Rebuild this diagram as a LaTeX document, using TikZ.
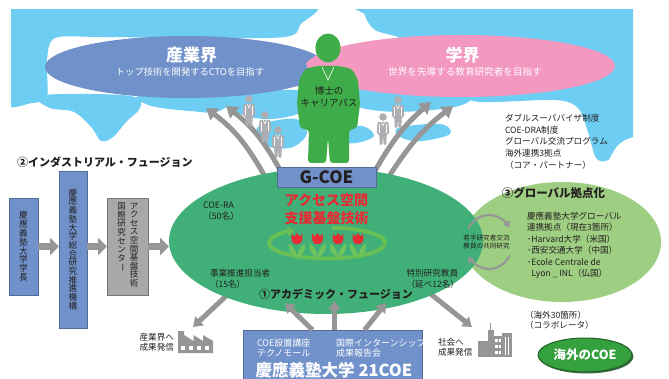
\documentclass[tikz,border=0pt]{standalone}
\usepackage{fontspec}
\setmainfont{Noto Sans CJK JP}
\usetikzlibrary{shapes.geometric,arrows.meta,shadows}

\pgfdeclarelayer{maplayer}
\pgfdeclarelayer{back}
\pgfsetlayers{maplayer,back,main}

\definecolor{mapblue}{RGB}{110,205,242}
\definecolor{indblue}{RGB}{112,145,202}
\definecolor{acapink}{RGB}{243,152,192}
\definecolor{coegreen}{RGB}{64,176,120}
\definecolor{globgreen}{RGB}{158,206,130}
\definecolor{mangreen}{RGB}{62,172,72}
\definecolor{arrowgray}{RGB}{150,150,150}
\definecolor{peoplegray}{RGB}{172,174,178}
\definecolor{titlered}{RGB}{232,42,52}
\definecolor{leafgreen}{RGB}{112,194,92}
\definecolor{loopgreen}{RGB}{104,192,84}
\definecolor{txt}{RGB}{35,31,32}
\definecolor{boxgray}{RGB}{168,168,168}
\definecolor{ovgreen}{RGB}{52,160,62}

\newcommand{\setfs}[2]{\fontsize{#1}{#2}\selectfont}
\newcommand{\vbar}{\rotatebox[origin=c]{-90}{ー}}

\tikzset{
  nopad/.style={inner sep=0pt, outer sep=0pt},
  bluebox/.style={nopad, fill=indblue, draw=indblue!75!black, line width=0.6pt,
    drop shadow={shadow xshift=1.2pt, shadow yshift=-1.2pt, opacity=0.45}},
  graybox/.style={bluebox, fill=boxgray, draw=boxgray!70!black},
  vtext/.style={nopad, text=txt, align=center},
  smalltext/.style={nopad, text=txt, align=left, font=\setfs{8.6}{11.5}},
  headtext/.style={nopad, text=txt, font=\setfs{11}{13}\bfseries},
  whitetext/.style={nopad, text=white, align=left, font=\setfs{9}{10.5}},
  blockarrow/.style={draw=arrowgray, line width=7pt, -{Triangle[length=9pt,width=17pt]}},
  bigarrow/.style={draw=arrowgray, line width=5pt, -{Triangle[length=11pt,width=14pt]}},
  midarrow/.style={draw=arrowgray, line width=5pt, -{Triangle[length=9pt,width=12pt]}},
  thinarrow/.style={draw=arrowgray, line width=2.2pt, -{Triangle[length=6pt,width=7.5pt]}},
  person/.pic={
    \fill[peoplegray] (0,0) circle [radius=3.8];
    \fill[peoplegray, rounded corners=1.2pt] (-5.5,5) -- (5.5,5) -- (6.2,17) -- (3.6,17)
      -- (3.4,28) -- (0.6,28) -- (0,18) -- (-0.6,28) -- (-3.4,28) -- (-3.6,17) -- (-6.2,17) -- cycle;
    \draw[white, line width=0.5pt] (-3.5,7) -- (-3.5,16) (3.5,7) -- (3.5,16);
    \draw[white, line width=0.5pt] (-1.6,5) -- (0,9) -- (1.6,5);
  },
}

\begin{document}
\begin{tikzpicture}[x=1pt,y=-1pt]
\useasboundingbox (0,0) rectangle (669,379);

% ---------- world map, career targets and the doctor figure ----------
\begin{pgfonlayer}{maplayer}
  \fill[white] (0,0) rectangle (669,379);
  \begin{scope}
    \clip (11,10) rectangle (633,172);
    \fill[mapblue] plot[smooth cycle, tension=0.5] coordinates {(0,0) (300,0) (300,25) (285,37) (200,38) (100,37) (55,38) (47,60) (47,96) (32,103) (0,100)};
    \fill[mapblue] plot[smooth cycle, tension=0.5] coordinates {(372,0) (700,0) (700,110) (625,140) (608,160) (596,158) (588,132) (578,108) (555,100) (480,102) (462,92) (440,60) (400,38) (375,30) (365,15)};
    \fill[mapblue] plot[smooth cycle, tension=0.6] coordinates {(38,96) (90,94) (135,97) (140,108) (126,122) (113,137) (101,141) (92,128) (74,112) (50,108)};
    \fill[mapblue] plot[smooth cycle, tension=0.6] coordinates {(140,96) (215,94) (232,101) (216,112) (190,111) (162,108) (146,104)};
    \fill[mapblue] plot[smooth cycle, tension=0.6] coordinates {(222,94) (302,90) (312,100) (300,113) (272,119) (246,116) (228,106)};
    \fill[mapblue] plot[smooth cycle, tension=0.6] coordinates {(262,124) (296,119) (307,133) (293,147) (270,147) (257,135)};
    \fill[mapblue] plot[smooth cycle, tension=0.6] coordinates {(350,88) (425,84) (472,92) (462,105) (420,111) (380,111) (352,104)};
    \fill[mapblue] plot[smooth cycle, tension=0.6] coordinates {(336,130) (362,126) (374,136) (356,143) (338,141)};
    \fill[mapblue] plot[smooth cycle, tension=0.6] coordinates {(398,128) (440,124) (450,134) (422,141) (402,138)};
  \end{scope}

  \node[nopad, ellipse, fill=indblue, minimum width=282pt, minimum height=62pt] (industry) at (186,67) {};
  \node[nopad, ellipse, fill=acapink, minimum width=308pt, minimum height=62pt] (academia) at (461,66) {};
  \node[nopad, text=white, font=\setfs{17}{17}\bfseries] (industryT) at (191.5,55) {産業界};
  \node[nopad, text=white, font=\setfs{9.3}{9.3}] (industryS) at (190,72) {トップ技術を開発するCTOを目指す};
  \node[nopad, text=white, font=\setfs{17}{17}\bfseries] (academiaT) at (462.5,55) {学界};
  \node[nopad, text=white, font=\setfs{9.6}{9.6}] (academiaS) at (465,72) {世界を先導する教育研究者を目指す};

  % doctor figure
  \fill[acapink] (327,64) ellipse [x radius=21, y radius=7.5];
  \fill[mangreen, rounded corners=3pt] (317,66) -- (305,69) -- (299,80) -- (297,104) -- (300,128)
    -- (309,130) -- (308,163) -- (326,163) -- (328,138) -- (330,163) -- (349,163) -- (349,130)
    -- (357,128) -- (360,104) -- (358,80) -- (352,69) -- (339,66) -- cycle;
  \fill[mangreen] (328,48) ellipse [x radius=12.5, y radius=14.5];
  \draw[white, line width=0.6pt] (322,67) -- (328,80) -- (334,67);
  \node[nopad, text=txt, align=center, font=\setfs{9.5}{12.5}] (career) at (329,97) {博士の\\キャリアパス};
\end{pgfonlayer}

% ---------- fusion areas ----------
\node[nopad, ellipse, fill=globgreen, minimum width=198pt, minimum height=120pt] (glob) at (562,242) {};
\node[nopad, ellipse, fill=coegreen, minimum width=314pt, minimum height=146pt] (acad) at (326,241) {};

\coordinate (tipL1) at (206,108);
\coordinate (tipL2) at (226,106);
\coordinate (tipR1) at (431,102);
\coordinate (tipR2) at (453,106);
\coordinate (toFactory) at (193,327);
\coordinate (toCity) at (472,327);

\begin{pgfonlayer}{back}
  \draw[bigarrow, shorten <=-4pt] (acad.133) to[bend right=12] (tipL1);
  \draw[bigarrow, shorten <=-4pt] (acad.123) to[bend right=12] (tipL2);
  \draw[bigarrow, shorten <=-4pt] (acad.55) to[bend left=10] (tipR1);
  \draw[bigarrow, shorten <=-4pt] (acad.46) to[bend left=10] (tipR2);
  \draw[midarrow, shorten <=-4pt] (acad.209) -- (toFactory);
  \draw[midarrow, shorten <=-4pt] (acad.333) -- (toCity);
  \pic at (249,99) {person};
  \pic at (265,115) {person};
  \pic at (278,130) {person};
  \pic at (383,117) {person};
  \pic at (398,100) {person};
\end{pgfonlayer}

% G-COE core
\node[bluebox, minimum width=99pt, minimum height=20pt, text=txt, font=\setfs{17}{17}\bfseries] (gcoe) at (326.5,177) {G-COE};
\node[nopad, text=titlered, align=center, font=\setfs{14}{18}\bfseries] (theme) at (326.5,209) {アクセス空間\\支援基盤技術};

% growth loop with tulips
\draw[loopgreen, line width=3.8pt, -{Triangle[length=7pt,width=10pt]}]
  (327,243) ++(-85:58 and 15.5) arc[start angle=-85, end angle=236, x radius=58, y radius=15.5];
\foreach \tx in {297,317.5,338,358}{
  \fill[leafgreen] (\tx,257) .. controls (\tx-7,255) and (\tx-9,249) .. (\tx-8,243)
    .. controls (\tx-4,246) and (\tx-1,250) .. (\tx,257) -- cycle;
  \fill[leafgreen] (\tx,257) .. controls (\tx+7,255) and (\tx+9,249) .. (\tx+8,243)
    .. controls (\tx+4,246) and (\tx+1,250) .. (\tx,257) -- cycle;
  \fill[titlered] (\tx-5.5,233.5) -- (\tx-2.6,236.5) -- (\tx,233) -- (\tx+2.6,236.5) -- (\tx+5.5,233.5)
    -- (\tx+5.2,240.5) .. controls (\tx+4.5,245.5) and (\tx-4.5,245.5) .. (\tx-5.2,240.5) -- cycle;
}

% members of the programme
\node[smalltext, anchor=west, font=\setfs{8.8}{10.7}] (ra) at (203,211.3) {COE-RA\\（50名）};
\node[smalltext, anchor=west] (leaders) at (210,279) {事業推進担当者\\（15名）};
\node[smalltext, anchor=west, font=\setfs{8.6}{10.5}] (fellows) at (406.5,279) {特別研究教員\\（延べ12名）};
\node[headtext] (fusion1) at (336,294) {①アカデミック・フュージョン};

% industrial fusion chain
\node[headtext, anchor=west] (fusion2) at (17,162) {②インダストリアル・フュージョン};
\node[bluebox, minimum width=29pt, minimum height=97pt] (pres) at (23.5,246.5) {};
\node[vtext, font=\setfs{8.6}{8.8}] (presT) at (pres.center) {慶\\應\\義\\塾\\大\\学\\学\\長};
\node[bluebox, minimum width=28pt, minimum height=157pt] (org) at (73,249.5) {};
\node[vtext, font=\setfs{8.6}{8.7}] (orgT) at (org.center) {慶\\應\\義\\塾\\大\\学\\総\\合\\研\\究\\推\\進\\機\\構};
\node[graybox, minimum width=41pt, minimum height=97pt] (ctr) at (127.5,246.5) {};
\node[vtext, anchor=north, font=\setfs{8.5}{8.6}] (ctrA) at (134,203) {ア\\ク\\セ\\ス\\空\\間\\基\\盤\\技\\術};
\node[vtext, anchor=north, font=\setfs{8.5}{8.6}] (ctrB) at (121.5,203) {国\\際\\研\\究\\セ\\ン\\タ\\\vbar};
\draw[blockarrow] (pres.east) -- (pres.east -| org.west);
\draw[blockarrow] (org.east |- pres.east) -- (ctr.west);
\draw[blockarrow] (ctr.east) -- (ctr.east -| acad.west);

% global hub
\node[headtext, font=\setfs{11.5}{13}\bfseries] (fusion3) at (553.5,193) {③グローバル拠点化};
\node[smalltext, anchor=west] (hubs) at (527,245.5) {慶應義塾大学グローバル\\連携拠点（現在3箇所）\\･Harvard大学（米国）\\･西安交通大学（中国）\\･Ecole Centrale de\\\hspace{4.5pt}Lyon \_ INL（仏国）};
\node[nopad, text=txt, align=center, font=\setfs{6.6}{8}] (exchange) at (486.5,242) {若手研究者交流\\教員の共同研究};
\draw[thinarrow] (489,242) ++(-150:24 and 27) arc[start angle=-150, end angle=-32, x radius=24, y radius=27];
\draw[thinarrow] (489,242) ++(30:24 and 27) arc[start angle=30, end angle=148, x radius=24, y radius=27];
\node[smalltext, anchor=west, font=\setfs{8.6}{11.7}] (plist) at (505,141.7) {ダブルスーパバイザ制度\\COE-DRA制度\\グローバル交流プログラム\\海外連携3拠点\\（コア・パートナー）};
\node[smalltext, anchor=west, font=\setfs{8.6}{9.8}] (collab) at (525,320) {（海外30箇所）\\（コラボレータ）};
\node[nopad, ellipse, fill=ovgreen, draw=ovgreen!60!black, line width=1pt, minimum width=94pt, minimum height=34pt,
  drop shadow={shadow xshift=1.5pt, shadow yshift=-1.5pt, fill=ovgreen!45!black, opacity=0.8},
  text=white, font=\setfs{12.5}{12.5}\bfseries] (overseas) at (585,355) {海外のCOE};

% 21COE base
\node[bluebox, minimum width=179pt, minimum height=52pt] (coe21) at (332.5,356) {};
\node[whitetext, anchor=west] (coe21A) at (257,348) {COE設置講座\\テクノモール};
\node[whitetext, anchor=west] (coe21B) at (336,348) {国際インターンシップ\\成果報告会};
\node[nopad, text=white, font=\setfs{16.5}{16.5}\bfseries] (coe21T) at (334,370.5) {慶應義塾大学 21COE};
\coordinate (upL) at (285,303);
\coordinate (upM) at (334.5,301);
\coordinate (upR) at (386,303);
\draw[midarrow] ([xshift=-20pt]coe21.north) -- (upL);
\draw[midarrow] ([xshift=2pt]coe21.north) -- (upM);
\draw[midarrow] ([xshift=32pt]coe21.north) -- (upR);

% outputs to industry and society
\node[smalltext, anchor=east, align=right, font=\setfs{8.6}{10}] (outInd) at (174,342.7) {産業界へ\\成果発信};
\node[smalltext, anchor=west, font=\setfs{8.6}{10}] (outSoc) at (438,347.7) {社会へ\\成果発信};
% factory
\fill[arrowgray] (178,353) -- (178,331) -- (184,331) -- (184,335) -- (193.5,341) -- (193.5,335) -- (203,341)
  -- (203,335) -- (213,341) -- (213,353) -- cycle;
\foreach \wx in {180.5,188.5,196.5,204.5}{\fill[white] (\wx,345.5) rectangle ++(4.5,4.5);}
% city
\fill[arrowgray] (478,341) rectangle (488,357);
\fill[arrowgray] (487.5,330) rectangle (493.5,357);
\fill[arrowgray] (489.8,323) rectangle (491.2,330);
\fill[arrowgray] (493,336) rectangle (502,357);
\fill[arrowgray] (502,333) rectangle (512,357);
\foreach \wy in {339,345,351}{\fill[white] (495,\wy) rectangle ++(2.5,3); \fill[white] (498.5,\wy) rectangle ++(2.5,3);}
\draw[white, line width=0.7pt] (505,337) -- (505,355) (508.5,337) -- (508.5,355);
\end{tikzpicture}
\end{document}
